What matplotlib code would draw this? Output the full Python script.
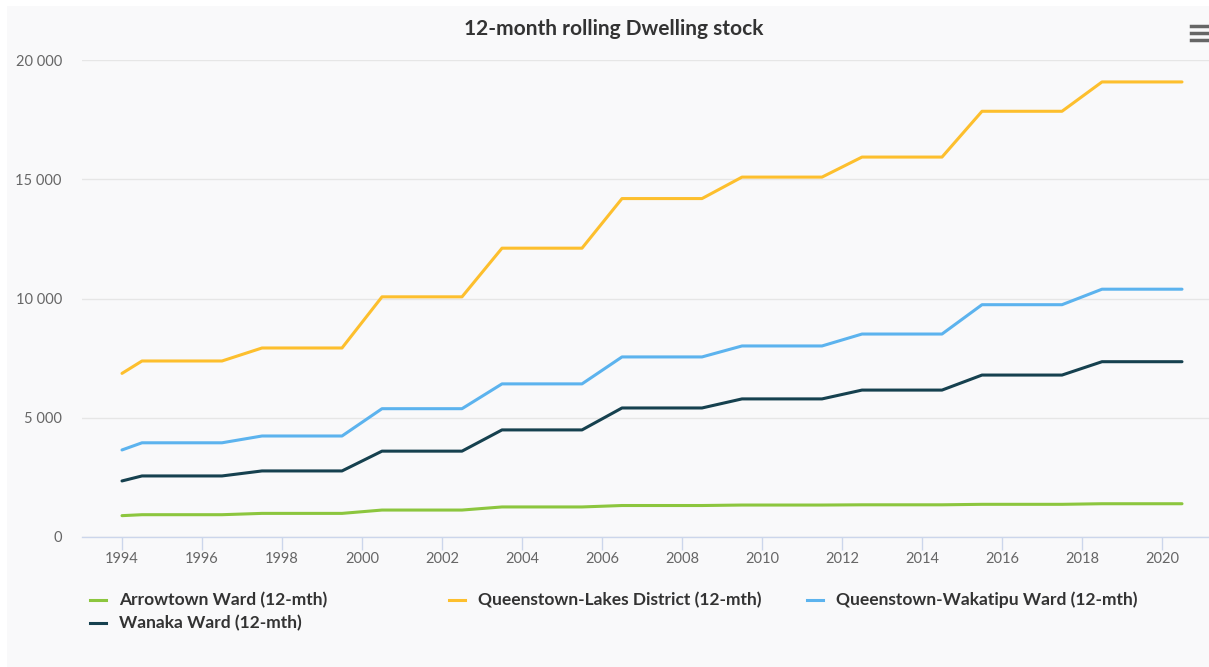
import matplotlib.pyplot as plt
from matplotlib.lines import Line2D
from matplotlib.patches import Rectangle
from matplotlib.ticker import FuncFormatter, MultipleLocator

plt.rcParams['font.family'] = ['Lato', 'DejaVu Sans']

# x values: first point at start of 1994, then one per year (mid-year)
years = [1994.0] + [1994.5 + i for i in range(27)]

def steps(first, levels):
    # levels hold for 3 years each, from 1994.5 onwards
    vals = [first]
    for lv in levels:
        vals += [lv] * 3
    return vals

arrowtown = steps(895, [935, 990, 1130, 1260, 1320, 1340, 1350, 1370, 1395])
queenstown_lakes = steps(6860, [7380, 7925, 10070, 12110, 14190, 15090, 15930, 17850, 19080])
wakatipu = steps(3650, [3950, 4235, 5380, 6420, 7550, 8010, 8510, 9740, 10390])
wanaka = steps(2350, [2560, 2770, 3600, 4490, 5410, 5790, 6160, 6790, 7350])

labels = ['Arrowtown Ward (12-mth)', 'Queenstown-Lakes District (12-mth)',
          'Queenstown-Wakatipu Ward (12-mth)', 'Wanaka Ward (12-mth)']
series = [arrowtown, queenstown_lakes, wakatipu, wanaka]
colors = ['#8cc63e', '#fdbf2d', '#5cb3ee', '#16414f']

W, H = 1209, 667
fig = plt.figure(figsize=(W / 100, H / 100), dpi=100, facecolor='white')
fig.add_artist(Rectangle((7 / W, 0), 1 - 7 / W, 1 - 6 / H, transform=fig.transFigure,
                         facecolor='#f9f9fa', edgecolor='none', zorder=0))

ax = fig.add_axes([82 / W, (H - 537) / H, 1127 / W, 477 / H])
ax.set_facecolor('none')

for vals, col in zip(series, colors):
    ax.plot(years, vals, color=col, lw=2.2, solid_capstyle='round', solid_joinstyle='round')

ax.set_xlim(1993.0, 1993.0 + 1127 / 40)
ax.set_ylim(0, 20000)
ax.xaxis.set_major_locator(MultipleLocator(2))
ax.yaxis.set_major_locator(MultipleLocator(5000))
ax.yaxis.set_major_formatter(FuncFormatter(lambda v, p: f'{int(v):,}'.replace(',', ' ')))
ax.xaxis.set_major_formatter(FuncFormatter(lambda v, p: f'{int(v)}'))

ax.grid(axis='y', color='#e6e6e6', lw=1)
ax.set_axisbelow(True)
for s in ['top', 'right', 'left']:
    ax.spines[s].set_visible(False)
ax.spines['bottom'].set_color('#ccd6eb')
ax.spines['bottom'].set_linewidth(1)

ax.tick_params(axis='x', colors='#ccd6eb', length=9, width=1, pad=2,
               labelcolor='#666666', labelsize=10.5)
ax.tick_params(axis='y', length=0, pad=14.5, labelcolor='#666666', labelsize=10.5)

fig.text(614 / W, 1 - 29 / H, '12-month rolling Dwelling stock', ha='center', va='center',
         fontsize=15, fontweight='bold', color='#333333')

# hamburger menu icon
for yy in [26, 33, 40]:
    fig.add_artist(Line2D([1191 / W, 1209 / W], [1 - yy / H] * 2, color='#666666', lw=2.5,
                          transform=fig.transFigure))

# legend, laid out like the original
legend_pos = [(90, 600), (449, 600), (807, 600), (90, 623)]
for (lx, ly), lab, col in zip(legend_pos, labels, colors):
    fig.add_artist(Line2D([lx / W, (lx + 16) / W], [1 - ly / H] * 2, color=col, lw=2.2,
                          transform=fig.transFigure))
    fig.text((lx + 29) / W, 1 - ly / H, lab, ha='left', va='center', fontsize=12.5,
             fontweight='bold', color='#333333')

fig.savefig('out.png', dpi=100, facecolor=fig.get_facecolor())
